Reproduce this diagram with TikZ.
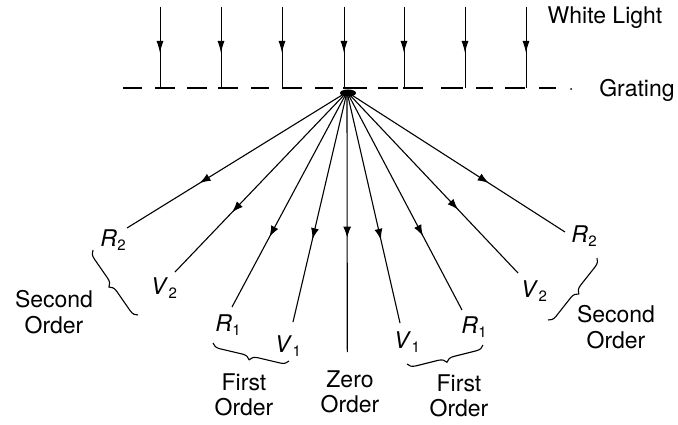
\documentclass[tikz,border=0pt]{standalone}
\usepackage{fontspec}
\setmainfont{TeX Gyre Heros}
\usetikzlibrary{arrows.meta,decorations.markings,decorations.pathreplacing}
\newcommand\lbl[2]{\textit{#1}\kern0.5pt\raisebox{-0.35ex}{\fontsize{15}{15}\selectfont #2}}
\tikzset{
  ray/.style={line width=1.1pt, postaction={decorate},
    decoration={markings, mark=at position #1 with {\arrow{Latex[length=11pt,width=8pt]}}}},
  beam/.style={line width=1pt, postaction={decorate},
    decoration={markings, mark=at position 46pt with {\arrow{Latex[length=12pt,width=7pt]}}}},
  txt/.style={inner sep=0pt, align=center, font=\fontsize{23}{25.5}\selectfont},
  lab/.style={inner sep=0pt, font=\fontsize{23}{25}\selectfont},
  brc/.style={line width=1.1pt, decorate, decoration={brace, amplitude=#1}},
}
\begin{document}
\begin{tikzpicture}[x=1pt,y=-1pt]
\useasboundingbox (0,0) rectangle (678,425);
% incoming white light
\foreach \xx [count=\i] in {160,221,282,344,404,465,526}{
  \coordinate (t\i) at (\xx,7);
  \coordinate (b\i) at (\xx,88);
  \draw[beam] (t\i) -- (b\i);
}
% grating
\foreach \a/\b [count=\i] in {123/142,155/175,187/207,218/238,251/269,282/302,315/333,343/367,378/398,403/423,441/463,476/493,505/525,539/556}{
  \coordinate (ga\i) at (\a,88);
  \coordinate (gb\i) at (\b,88);
  \draw[line width=1.4pt] (ga\i) -- (gb\i);
}
\coordinate (gd) at (571,89);
\fill (gd) circle (1pt);
% origin
\coordinate (O) at (347,92);
\fill (348,93) ellipse (8pt and 3.5pt);
% ray endpoints
\coordinate (eR2l) at (127,228);
\coordinate (eV2l) at (175,272);
\coordinate (eR1l) at (232,307);
\coordinate (eV1l) at (293,322);
\coordinate (eZ) at (347.3,352);
\coordinate (eV1r) at (400,323);
\coordinate (eR1r) at (462,310);
\coordinate (eV2r) at (518,273);
\coordinate (eR2r) at (565,232);
\draw[ray=0.67] (O) -- (eR2l);
\draw[ray=0.668] (O) -- (eV2l);
\draw[ray=0.674] (O) -- (eR1l);
\draw[ray=0.64] (O) -- (eV1l);
\draw[ray=0.56] (O) -- (eZ);
\draw[ray=0.64] (O) -- (eV1r);
\draw[ray=0.66] (O) -- (eR1r);
\draw[ray=0.65] (O) -- (eV2r);
\draw[ray=0.65] (O) -- (eR2r);
% labels
\node[lab] (lR2l) at (113,240) {\lbl{R}{2}};
\node[lab] (lV2l) at (164,288) {\lbl{V}{2}};
\node[lab] (lR1l) at (228,325) {\lbl{R}{1}};
\node[lab] (lV1l) at (288,346) {\lbl{V}{1}};
\node[lab] (lV1r) at (407,342) {\lbl{V}{1}};
\node[lab] (lR1r) at (474,327) {\lbl{R}{1}};
\node[lab] (lV2r) at (534,291) {\lbl{V}{2}};
\node[lab] (lR2r) at (584,236) {\lbl{R}{2}};
% braces
\coordinate (bsl1) at (138,315); \coordinate (bsl2) at (93,250);
\coordinate (bfl1) at (289,361); \coordinate (bfl2) at (213,343);
\coordinate (bfr1) at (483,345); \coordinate (bfr2) at (407,364);
\coordinate (bsr1) at (597,258); \coordinate (bsr2) at (548,320);
\draw[brc=8pt] (bsl1) -- (bsl2);
\draw[brc=8pt] (bfl1) -- (bfl2);
\draw[brc=8pt] (bfr1) -- (bfr2);
\draw[brc=8pt] (bsr1) -- (bsr2);
% texts
\node[txt] (wl) at (605,18) {White Light};
\node[txt] (gr) at (637,90) {Grating};
\node[txt] (so1) at (54,312) {Second\\Order};
\node[txt] (fo1) at (244,395) {First\\Order};
\node[txt] (zo) at (350,392) {Zero\\Order};
\node[txt] (fo2) at (459,396) {First\\Order};
\node[txt] (so2) at (616,327) {Second\\Order};
\end{tikzpicture}
\end{document}
